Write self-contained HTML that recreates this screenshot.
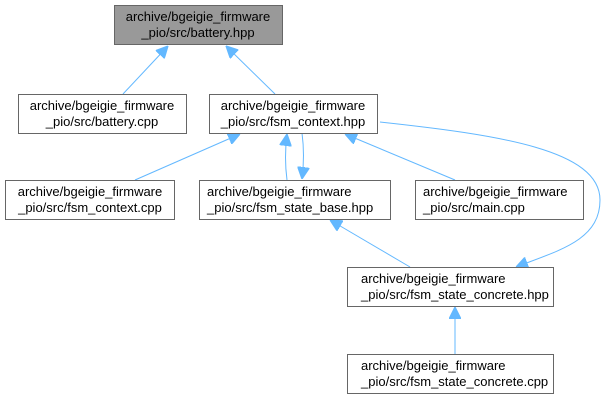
<!DOCTYPE html>
<html><head><style>
body{margin:0;background:#fff;}
svg{display:block;}
text{font-family:"Liberation Sans",Arial,sans-serif;font-size:13px;fill:#000;}
</style></head><body>
<svg width="606" height="403" viewBox="0 0 606 403" xmlns="http://www.w3.org/2000/svg">
<defs>
<marker id="a" viewBox="0 0 10 10" refX="10" refY="5" markerWidth="12" markerHeight="12" markerUnits="userSpaceOnUse" orient="auto">
<path d="M0,0 L10,5 L0,10 z" fill="#63b8ff" stroke="#63b8ff"/>
</marker>
</defs>
<g stroke="#63b8ff" stroke-width="1" fill="none" marker-end="url(#a)">
<line x1="123" y1="94" x2="168" y2="46"/>
<line x1="275" y1="94" x2="226" y2="46"/>
<line x1="135" y1="180" x2="240" y2="134"/>
<path d="M287,180 C285,165 285,150 287,134"/>
<path d="M302,133 C304,148 304,163 302,179"/>
<line x1="455" y1="180" x2="345" y2="134"/>
<line x1="410" y1="267" x2="330" y2="220"/>
<path d="M380,122 C500,135 600,150 600,200 C600,240 560,250 516,267"/>
<line x1="455" y1="354" x2="455" y2="307"/>
</g>
<g stroke="#666" stroke-width="1">
<rect x="114.5" y="5.5" width="168" height="39" fill="#999"/>
<rect x="18.5" y="94.5" width="168" height="39" fill="#fff"/>
<rect x="209.5" y="94.5" width="168" height="39" fill="#fff"/>
<rect x="5.5" y="180.5" width="169" height="39" fill="#fff"/>
<rect x="199.5" y="180.5" width="191" height="39" fill="#fff"/>
<rect x="415.5" y="180.5" width="168" height="39" fill="#fff"/>
<rect x="347.5" y="267.5" width="206" height="39" fill="#fff"/>
<rect x="347.5" y="354.5" width="206" height="39" fill="#fff"/>
</g>
<g text-anchor="middle">
<text x="198" y="21">archive/bgeigie_firmware</text><text x="198" y="37">_pio/src/battery.hpp</text>
<text x="102" y="110">archive/bgeigie_firmware</text><text x="102" y="126">_pio/src/battery.cpp</text>
<text x="293" y="110">archive/bgeigie_firmware</text><text x="293" y="126">_pio/src/fsm_context.hpp</text>
<text x="90" y="196">archive/bgeigie_firmware</text><text x="90" y="212">_pio/src/fsm_context.cpp</text>
</g>
<g>
<text x="207" y="196">archive/bgeigie_firmware</text><text x="207" y="212">_pio/src/fsm_state_base.hpp</text>
<text x="423" y="196">archive/bgeigie_firmware</text><text x="423" y="212">_pio/src/main.cpp</text>
<text x="361" y="283">archive/bgeigie_firmware</text><text x="361" y="299">_pio/src/fsm_state_concrete.hpp</text>
<text x="361" y="370">archive/bgeigie_firmware</text><text x="361" y="386">_pio/src/fsm_state_concrete.cpp</text>
</g>
</svg>
</body></html>
